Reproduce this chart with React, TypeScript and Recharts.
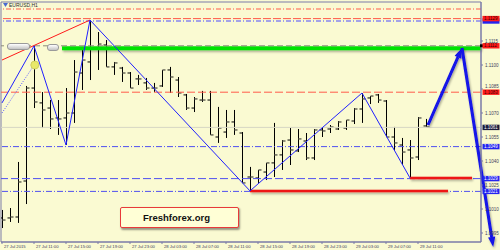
import React from 'react';
import { ComposedChart, Bar, XAxis, YAxis, ReferenceLine, ReferenceDot, ReferenceArea } from 'recharts';

// EURUSD H1, 27 Jul 07:00 .. 29 Jul 12:00
const opens = [
  1.10044, 1.10044, 1.1005, 1.10275, 1.10856, 1.10763, 1.10731, 1.10669, 1.10669, 1.107,
  1.1095, 1.11019, 1.11106, 1.11125, 1.10988, 1.10981, 1.1095, 1.10913, 1.10888, 1.10856,
  1.10869, 1.10969, 1.10906, 1.10813, 1.10731, 1.10781, 1.10781, 1.1055, 1.10581, 1.10644,
  1.10575, 1.103, 1.10294, 1.10331, 1.10388, 1.10438, 1.10531, 1.10463, 1.10525, 1.10419,
  1.10594, 1.106, 1.106, 1.10606, 1.1065, 1.10725, 1.10794, 1.10813, 1.10775, 1.1055,
  1.105, 1.10469, 1.10425, 1.10619,
];
const highs = [
  1.10094, 1.10106, 1.10394, 1.10869, 1.11119, 1.10831, 1.10781, 1.10781, 1.10856, 1.11031,
  1.11113, 1.11281, 1.11206, 1.11156, 1.11019, 1.10988, 1.10956, 1.10938, 1.10919, 1.10888,
  1.10969, 1.10988, 1.10925, 1.10819, 1.108, 1.10838, 1.10838, 1.10738, 1.10719, 1.10719,
  1.10581, 1.10363, 1.10344, 1.10388, 1.10638, 1.10531, 1.10606, 1.106, 1.10575, 1.106,
  1.10606, 1.10625, 1.1065, 1.10656, 1.10731, 1.10825, 1.10806, 1.10819, 1.10781, 1.10613,
  1.10544, 1.10531, 1.10675, 1.10663,
];
const lows = [
  1.09981, 1.10019, 1.10013, 1.10131, 1.10731, 1.10606, 1.106, 1.10563, 1.105, 1.10638,
  1.10844, 1.10906, 1.10969, 1.10988, 1.10938, 1.10894, 1.10856, 1.10875, 1.10844, 1.10831,
  1.10863, 1.10825, 1.108, 1.10719, 1.10706, 1.10769, 1.10563, 1.10513, 1.10544, 1.10563,
  1.10263, 1.10213, 1.10263, 1.10281, 1.103, 1.10344, 1.10375, 1.10456, 1.10406, 1.10406,
  1.1055, 1.10575, 1.10594, 1.10594, 1.10631, 1.10638, 1.10756, 1.10763, 1.1055, 1.10469,
  1.10375, 1.10294, 1.10406, 1.10613,
];
const closes = [
  1.10031, 1.1005, 1.10269, 1.10856, 1.10769, 1.10719, 1.10663, 1.10663, 1.107, 1.10956,
  1.11031, 1.11106, 1.11131, 1.10988, 1.11013, 1.1095, 1.10856, 1.10913, 1.10856, 1.10856,
  1.10969, 1.10925, 1.10825, 1.10731, 1.10788, 1.10781, 1.10563, 1.10606, 1.10644, 1.10594,
  1.10263, 1.103, 1.10344, 1.10388, 1.10438, 1.10525, 1.10469, 1.10538, 1.10419, 1.10594,
  1.10588, 1.10613, 1.10644, 1.10656, 1.10725, 1.10788, 1.10806, 1.10781, 1.1055, 1.10513,
  1.10456, 1.10419, 1.10669, 1.10613,
];

const timeTicks = [0, 4, 8, 12, 16, 20, 24, 28, 32, 36, 40, 44, 48, 52];
const timeLabels = [
  '27 Jul 2015', '27 Jul 11:00', '27 Jul 15:00', '27 Jul 19:00', '27 Jul 23:00',
  '28 Jul 03:00', '28 Jul 07:00', '28 Jul 11:00', '28 Jul 15:00', '28 Jul 19:00',
  '28 Jul 23:00', '29 Jul 03:00', '29 Jul 07:00', '29 Jul 11:00',
];
const priceTicks = [1.1115, 1.11, 1.1085, 1.107, 1.1055, 1.104, 1.1025, 1.101, 1.0995];
const markerPrices = [1.11275, 1.1129, 1.1112, 1.1083, 1.1061, 1.1049, 1.1029, 1.1021];
const markerKinds = ['blue', 'red', 'red', 'red', 'bid', 'blue', 'blue', 'blue'];

// zigzag pivots (bar index, price)
const zigIdx = [0, 4, 8, 11, 31, 45, 51];
const zigPrice = [1.10763, 1.11119, 1.105, 1.11281, 1.10213, 1.10825, 1.10294];
// hand drawn arrows
const arrowIdx = [53.25, 57.5, 61.4];
const arrowPrice = [1.10625, 1.11106, 1.09863];

const BG = '#fafad2';
const FRAME = '#7b7ba8';
const MARK = {
  red: { fill: '#ff1a1a', text: '#3a0000' },
  blue: { fill: '#2424f0', text: '#ffffff' },
  bid: { fill: '#1c1c3c', text: '#ffffff' },
};

const bars = opens.map((o, i) => ({
  i,
  o,
  h: highs[i],
  l: lows[i],
  c: closes[i],
  range: [lows[i], highs[i]],
}));

const OhlcShape = (props: any) => {
  const { x, y, width, height, payload } = props;
  const top = Math.min(y, y + height);
  const hgt = Math.abs(height);
  const cx = Math.round(x + width / 2) + 0.5;
  const span = payload.h - payload.l || 1;
  const yo = top + ((payload.h - payload.o) / span) * hgt;
  const yc = top + ((payload.h - payload.c) / span) * hgt;
  return (
    <g>
      <line x1={cx} x2={cx} y1={top} y2={top + hgt} stroke="#000" strokeWidth={1} />
      <line x1={cx - 3} x2={cx} y1={yo} y2={yo} stroke="#000" strokeWidth={1} />
      <line x1={cx} x2={cx + 3} y1={yc} y2={yc} stroke="#6a6a5a" strokeWidth={1.5} />
    </g>
  );
};

const TimeTick = (props: any) => {
  const { x, y, payload } = props;
  const k = timeTicks.indexOf(payload.value);
  return (
    <g>
      <line x1={x} x2={x} y1={y} y2={y + 2} stroke={FRAME} />
      <text x={x + 2} y={y + 5.5} fontSize={4.2} fill="#3c3c5c" fontFamily="Liberation Sans, Arial">
        {timeLabels[k]}
      </text>
    </g>
  );
};

const PriceTick = (props: any) => {
  const { x, y, payload } = props;
  const k = markerPrices.indexOf(payload.value);
  const txt = payload.value.toFixed(4);
  if (k < 0) {
    // a plain label right next to a coloured one is pushed up a little, as the terminal does
    const crowded = markerPrices.some((m) => Math.abs(m - payload.value) < 0.00025);
    const ty = crowded ? y - 1 : y + 1.6;
    return (
      <g>
        <line x1={x} x2={x + 2} y1={y} y2={y} stroke={FRAME} />
        <text x={x + 4} y={ty} fontSize={4.5} fill="#3c3c5c" fontFamily="Liberation Sans, Arial">
          {txt}
        </text>
      </g>
    );
  }
  const st = MARK[markerKinds[k] as keyof typeof MARK];
  // the blue level just under 1.1129 is hidden behind the red label; only its strip shows
  const showText = payload.value !== 1.11275;
  return (
    <g>
      {payload.value === 1.1112 && <rect x={x - 1} y={y - 1.5} width={3} height={3} fill="#000" />}
      <rect x={x + 1.5} y={y - 2.7} width={17} height={5.4} fill={st.fill} />
      {showText && (
        <text x={x + 3} y={y + 1.6} fontSize={4.5} fill={st.text} fontFamily="Liberation Sans, Arial">
          {txt}
        </text>
      )}
    </g>
  );
};

const arrowShape = (props: any) => {
  const { x1, y1, x2, y2 } = props;
  const ang = Math.atan2(y2 - y1, x2 - x1);
  const len = 10;
  const w = 3.6;
  const bx = x2 - len * Math.cos(ang);
  const by = y2 - len * Math.sin(ang);
  const px = -Math.sin(ang) * w;
  const py = Math.cos(ang) * w;
  return (
    <g filter="url(#shadow)">
      <line x1={x1} y1={y1} x2={bx} y2={by} stroke="#1212e8" strokeWidth={3} />
      <polygon points={`${x2},${y2} ${bx + px},${by + py} ${bx - px},${by - py}`} fill="#1212e8" />
    </g>
  );
};

const hLine = (y: number, stroke: string, dash?: string, width = 1) => (
  <ReferenceLine key={`h${y}${stroke}`} y={y} stroke={stroke} strokeDasharray={dash} strokeWidth={width} />
);

export default function App() {
  const zigSegments = zigIdx.slice(1).map((x, k) => (
    <ReferenceLine
      key={`z${k}`}
      segment={[
        { x: zigIdx[k], y: zigPrice[k] },
        { x, y: zigPrice[k + 1] },
      ]}
      stroke="#2020ff"
      strokeWidth={1}
    />
  ));
  const arrows = arrowIdx.slice(1).map((x, k) => (
    <ReferenceLine
      key={`a${k}`}
      segment={[
        { x: arrowIdx[k], y: arrowPrice[k] },
        { x, y: arrowPrice[k + 1] },
      ]}
      ifOverflow="visible"
      shape={arrowShape}
    />
  ));

  return (
    <div style={{ position: 'absolute', left: 0, top: 0, width: 500, height: 250, background: BG, overflow: 'hidden' }}>
      <ComposedChart width={500} height={250} data={bars} margin={{ top: 2, right: 1, bottom: 0, left: 1 }}>
        <defs>
          <filter id="shadow" filterUnits="userSpaceOnUse" x="0" y="0" width="500" height="250">
            <feDropShadow dx="1" dy="1.5" stdDeviation="0.9" floodColor="#000" floodOpacity="0.35" />
          </filter>
        </defs>
        <XAxis
          dataKey="i"
          type="number"
          domain={[-0.125, 59.875]}
          allowDataOverflow
          ticks={timeTicks}
          interval={0}
          height={8}
          tickLine={false}
          tickSize={0}
          tickMargin={0}
          axisLine={{ stroke: FRAME }}
          tick={<TimeTick />}
        />
        <YAxis
          orientation="right"
          type="number"
          domain={[1.0989375, 1.1139375]}
          allowDataOverflow
          ticks={[...priceTicks, ...markerPrices]}
          interval={0}
          width={18}
          tickLine={false}
          tickSize={0}
          tickMargin={0}
          axisLine={{ stroke: FRAME }}
          tick={<PriceTick />}
        />
        <ReferenceArea x1={-0.125} x2={59.875} y1={1.0989375} y2={1.1139375} fill="none" stroke={FRAME} />

        {hLine(1.1135, '#ff5a4a', '5 2 1 2')}
        {hLine(1.1129, '#ff5a4a', '8 2')}
        {hLine(1.11275, '#4a4aff', '5 2 1 2')}
        {hLine(1.1083, '#ff5a4a', '8 3')}
        {hLine(1.1061, '#d6d6c4')}
        {hLine(1.1049, '#5050f0', '6 2 1 2')}
        {hLine(1.1029, '#5050f0', '8 3')}
        {hLine(1.1021, '#5050f0', '6 2 1 2')}

        <ReferenceLine
          segment={[
            { x: 7.5, y: 1.11104 },
            { x: 59.875, y: 1.11104 },
          ]}
          stroke="#00e400"
          strokeWidth={4}
          filter="url(#shadow)"
        />
        {hLine(1.1112, '#8a8a7a', '6 3')}

        <ReferenceLine
          segment={[
            { x: 31, y: 1.10213 },
            { x: 55.75, y: 1.10213 },
          ]}
          stroke="#ee1414"
          strokeWidth={2.5}
          filter="url(#shadow)"
        />
        <ReferenceLine
          segment={[
            { x: 51, y: 1.10294 },
            { x: 58.75, y: 1.10294 },
          ]}
          stroke="#ee1414"
          strokeWidth={2.5}
          filter="url(#shadow)"
        />

        <Bar dataKey="range" barSize={6} shape={<OhlcShape />} isAnimationActive={false} />

        <ReferenceLine
          segment={[
            { x: 0, y: 1.11031 },
            { x: 11, y: 1.11281 },
          ]}
          stroke="#ff1a1a"
          strokeWidth={1}
        />
        <ReferenceLine
          segment={[
            { x: 0, y: 1.107 },
            { x: 4.1, y: 1.11006 },
          ]}
          stroke="#5a5aff"
          strokeDasharray="1 1.5"
          strokeWidth={1}
        />
        {zigSegments}
        <ReferenceDot x={4.1} y={1.11} r={4} fill="#e8e86a" stroke="#d0d060" />
        {arrows}
      </ComposedChart>

      <div style={{ position: 'absolute', left: 3, top: 2, display: 'flex', alignItems: 'center', gap: 1 }}>
        <svg width={5} height={5}>
          <polygon points="0,0 5,0 2.5,4" fill="#4a6ad0" />
        </svg>
        <span style={{ fontSize: 5, color: '#2c2c2c', fontFamily: 'Liberation Sans, Arial' }}>EURUSD,H1</span>
      </div>

      <div
        style={{
          position: 'absolute', left: 7, top: 43, width: 21, height: 5, borderRadius: 3,
          border: '1px solid #9a9a9a', background: 'linear-gradient(#ffffff, #c4c4c4)',
        }}
      />
      <div
        style={{
          position: 'absolute', left: 47, top: 44, width: 10, height: 5, borderRadius: 3,
          border: '1px solid #9a9a9a', background: 'linear-gradient(#ffffff, #c4c4c4)',
        }}
      />

      <div
        style={{
          position: 'absolute', left: 120, top: 207, width: 111, height: 19,
          border: '1.5px solid #e83a3a', borderRadius: 2, background: '#ffffd6',
          boxShadow: '1px 1.5px 2px rgba(0,0,0,0.4)', display: 'flex', alignItems: 'center',
          justifyContent: 'center', paddingRight: 6, boxSizing: 'content-box',
        }}
      >
        <span style={{ fontFamily: 'Liberation Sans, Arial', fontWeight: 700, fontSize: 9.5, color: '#111' }}>
          Freshforex.org
        </span>
      </div>
    </div>
  );
}
